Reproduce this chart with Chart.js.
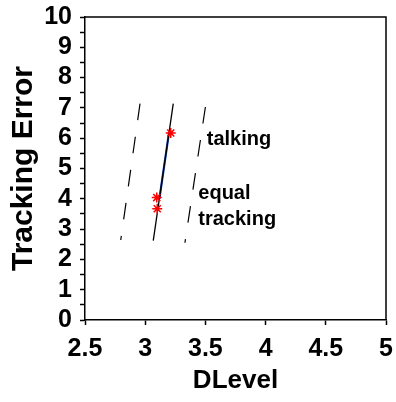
<!DOCTYPE html>
<html>
<head>
<meta charset="utf-8">
<script src="https://cdn.jsdelivr.net/npm/chart.js@4"></script>
<style>
  html, body { margin: 0; padding: 0; background: #fff; }
  #wrap { width: 396px; height: 402px; }
</style>
</head>
<body>
<div id="wrap"><canvas id="myChart" width="396" height="402"></canvas></div>
<script>
// fitted line and its band (drawn from top to bottom so dashes start at the top)
const fitX = [3.067, 3.233];
const fitY = [2.62, 7.14];
const lowerX = [2.957, 2.797];
const lowerY = [7.14, 2.64];
const upperX = [3.50, 3.33];
const upperY = [7.03, 2.55];
// segment across the observed range, lying on the fitted line
const segX = [3.118, 3.197];
const segY = [4.0, 6.17];
// observed points
const obsX = [3.212, 3.096, 3.10];
const obsY = [6.17, 4.04, 3.67];
// text notes
const noteText = ['talking', 'equal', 'tracking'];
const noteX = [3.511, 3.441, 3.441];
const noteY = [5.76, 3.99, 3.14];

const FONT = 'Arial, "Liberation Sans", Helvetica, sans-serif';

function pts(xs, ys) {
    return xs.map((x, i) => ({ x: x, y: ys[i] }));
}

const frame = {
    id: 'frame',
    afterDraw(chart) {
        const a = chart.chartArea;
        const c = chart.ctx;
        c.save();
        c.strokeStyle = '#000';
        c.lineWidth = 1.5;
        c.beginPath();
        c.moveTo(a.left, a.top);
        c.lineTo(a.right, a.top);
        c.lineTo(a.right, a.bottom);
        c.stroke();
        c.restore();
    }
};

const notes = {
    id: 'notes',
    afterDatasetsDraw(chart) {
        const c = chart.ctx;
        const xs = chart.scales.x, ys = chart.scales.y;
        c.save();
        c.fillStyle = '#000';
        c.font = 'bold 20px ' + FONT;
        c.textAlign = 'left';
        c.textBaseline = 'alphabetic';
        noteText.forEach((t, i) => {
            c.fillText(t, xs.getPixelForValue(noteX[i]), ys.getPixelForValue(noteY[i]));
        });
        c.restore();
    }
};

const ctx = document.getElementById('myChart').getContext('2d');
const myChart = new Chart(ctx, {
    type: 'scatter',
    data: {
        datasets: [{
            data: pts(obsX, obsY),
            pointStyle: 'star',
            pointRadius: 5,
            borderColor: '#ff0000',
            backgroundColor: '#ff0000',
            borderWidth: 1.5
        }, {
            data: pts(fitX, fitY),
            showLine: true,
            borderColor: '#000',
            borderWidth: 1.3,
            pointRadius: 0
        }, {
            data: pts(segX, segY),
            showLine: true,
            borderColor: '#1740b0',
            borderWidth: 2.2,
            pointRadius: 0
        }, {
            data: pts(lowerX, lowerY),
            showLine: true,
            borderColor: '#000',
            borderWidth: 1.2,
            borderDash: [16.7, 16.7],
            pointRadius: 0
        }, {
            data: pts(upperX, upperY),
            showLine: true,
            borderColor: '#000',
            borderWidth: 1.2,
            borderDash: [16.7, 16.7],
            pointRadius: 0
        }]
    },
    options: {
        responsive: false,
        animation: false,
        layout: { padding: { top: 17, right: 10, left: 0, bottom: 0 } },
        plugins: {
            legend: { display: false },
            tooltip: { enabled: false }
        },
        scales: {
            x: {
                min: 2.5,
                max: 5,
                afterFit: (s) => {
                    s.height = 82;
                    s.paddingLeft = 0;
                    s.paddingRight = 8;
                },
                ticks: {
                    stepSize: 0.5,
                    autoSkip: false,
                    maxRotation: 0,
                    padding: 9,
                    color: '#000',
                    font: { family: FONT, size: 25, weight: 'bold' },
                    callback: (v) => String(v)
                },
                grid: { drawOnChartArea: false, drawTicks: true, tickLength: 5, color: '#000', tickWidth: 1.5 },
                border: { color: '#000', width: 1.5 },
                title: {
                    display: true,
                    text: 'DLevel',
                    color: '#000',
                    padding: { top: 0, bottom: 6 },
                    font: { family: FONT, size: 26, weight: 'bold' }
                }
            },
            y: {
                min: 0,
                max: 10,
                afterFit: (s) => {
                    s.width = 85;
                    s.paddingTop = 12;
                    s.paddingBottom = 0;
                },
                ticks: {
                    stepSize: 0.5,
                    autoSkip: false,
                    padding: 8,
                    color: '#000',
                    font: { family: FONT, size: 25, weight: 'bold' },
                    callback: (v) => Number.isInteger(v) ? String(v) : ''
                },
                grid: { drawOnChartArea: false, drawTicks: true, tickLength: 5, color: '#000', tickWidth: 1.5 },
                border: { color: '#000', width: 1.5 },
                title: {
                    display: true,
                    text: 'Tracking Error',
                    color: '#000',
                    padding: { top: 6, bottom: 0 },
                    font: { family: FONT, size: 30, weight: 'bold' }
                }
            }
        }
    },
    plugins: [frame, notes]
});
</script>
</body>
</html>
